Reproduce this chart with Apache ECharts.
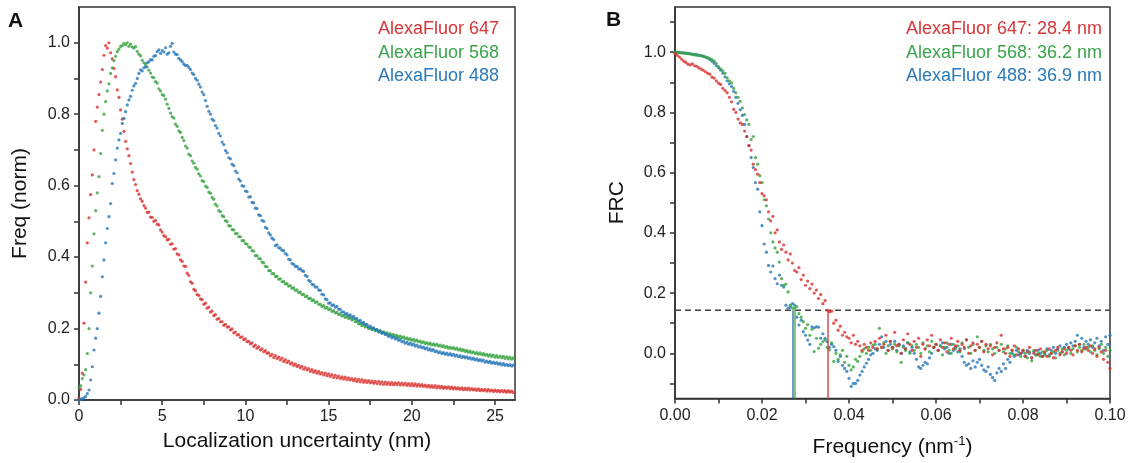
<!DOCTYPE html>
<html><head><meta charset="utf-8">
<script src="https://cdn.jsdelivr.net/npm/echarts/dist/echarts.min.js"></script>
<style>html,body{margin:0;padding:0;background:#fff}#c{width:1129px;height:463px}</style>
</head><body><div id="c"></div>
<script>
// ---------- Panel A: localization uncertainty histograms (bin start/step in nm) ----------
const uncBinStart = 0, uncBinStep = 0.1;
const af647Unc = [
0.005,0.03,0.075,0.215,0.33,0.44,0.51,0.575,0.63,0.70,
0.78,0.82,0.855,0.89,0.925,0.965,0.992,0.985,1.0,0.972,
0.955,0.928,0.905,0.868,0.847,0.812,0.786,0.752,0.724,0.703,
0.684,0.662,0.638,0.617,0.603,0.586,0.576,0.563,0.556,0.544,
0.537,0.525,0.526,0.512,0.511,0.5,0.503,0.492,0.49,0.476,
0.47,0.46,0.457,0.448,0.45,0.436,0.437,0.422,0.424,0.409,
0.406,0.392,0.388,0.375,0.374,0.355,0.349,0.331,0.327,0.31,
0.306,0.295,0.293,0.283,0.281,0.268,0.271,0.257,0.26,0.246,
0.249,0.236,0.239,0.226,0.228,0.219,0.219,0.209,0.212,0.204,
0.205,0.196,0.199,0.188,0.19,0.182,0.183,0.175,0.177,0.169,
0.171,0.163,0.164,0.157,0.16,0.15,0.154,0.145,0.149,0.14,
0.143,0.135,0.138,0.131,0.132,0.124,0.128,0.119,0.124,0.116,
0.12,0.112,0.117,0.108,0.113,0.105,0.109,0.101,0.104,0.097,
0.101,0.094,0.097,0.09,0.094,0.086,0.091,0.084,0.088,0.08,
0.085,0.078,0.082,0.075,0.08,0.073,0.077,0.07,0.075,0.068,
0.073,0.066,0.071,0.063,0.069,0.062,0.067,0.06,0.065,0.059,
0.064,0.057,0.062,0.056,0.06,0.054,0.059,0.052,0.058,0.051,
0.057,0.05,0.055,0.049,0.054,0.048,0.053,0.047,0.052,0.046,
0.052,0.045,0.051,0.044,0.05,0.044,0.049,0.043,0.049,0.043,
0.048,0.043,0.048,0.042,0.047,0.042,0.047,0.041,0.046,0.04,
0.046,0.04,0.045,0.039,0.044,0.039,0.043,0.038,0.042,0.037,
0.041,0.036,0.04,0.035,0.04,0.034,0.039,0.034,0.038,0.033,
0.037,0.033,0.037,0.032,0.036,0.031,0.035,0.031,0.034,0.03,
0.034,0.029,0.033,0.029,0.033,0.028,0.032,0.028,0.031,0.027,
0.031,0.026,0.03,0.026,0.03,0.025,0.029,0.025,0.028,0.024,
0.028,0.024,0.027,0.023,0.027,0.023,0.026,0.022,0.026,0.022,
0.025,0.021];
const af568Unc = [
0.035,0.04,0.06,0.07,0.085,0.13,0.2,0.3,0.375,0.465,
0.53,0.58,0.625,0.69,0.755,0.8,0.835,0.865,0.885,0.914,
0.93,0.95,0.962,0.975,0.982,0.99,0.992,0.998,0.994,1.0,
0.99,0.996,0.988,0.985,0.989,0.976,0.968,0.963,0.951,0.944,
0.94,0.932,0.923,0.915,0.904,0.902,0.891,0.887,0.871,0.865,
0.855,0.852,0.842,0.828,0.816,0.803,0.793,0.789,0.772,0.766,
0.753,0.749,0.735,0.726,0.711,0.705,0.688,0.684,0.669,0.663,
0.651,0.646,0.633,0.627,0.614,0.611,0.599,0.595,0.582,0.579,
0.567,0.562,0.548,0.543,0.53,0.527,0.516,0.513,0.502,0.499,
0.488,0.487,0.477,0.476,0.466,0.466,0.457,0.457,0.446,0.446,
0.438,0.436,0.428,0.427,0.418,0.417,0.404,0.404,0.396,0.395,
0.386,0.384,0.374,0.373,0.362,0.362,0.354,0.354,0.346,0.346,
0.338,0.339,0.331,0.332,0.325,0.326,0.319,0.32,0.313,0.314,
0.307,0.308,0.301,0.302,0.295,0.296,0.289,0.291,0.284,0.285,
0.278,0.28,0.273,0.275,0.268,0.268,0.262,0.264,0.257,0.259,
0.253,0.255,0.248,0.25,0.244,0.245,0.239,0.241,0.235,0.237,
0.231,0.234,0.228,0.23,0.224,0.226,0.219,0.22,0.213,0.214,
0.208,0.21,0.204,0.206,0.2,0.202,0.197,0.199,0.194,0.197,
0.191,0.194,0.188,0.191,0.186,0.189,0.183,0.186,0.181,0.184,
0.179,0.181,0.176,0.179,0.174,0.177,0.172,0.174,0.169,0.172,
0.167,0.17,0.165,0.168,0.163,0.165,0.16,0.163,0.158,0.161,
0.156,0.159,0.154,0.157,0.153,0.156,0.151,0.154,0.149,0.152,
0.147,0.15,0.145,0.148,0.144,0.147,0.142,0.145,0.14,0.143,
0.138,0.141,0.136,0.139,0.134,0.137,0.132,0.135,0.13,0.133,
0.128,0.132,0.127,0.13,0.125,0.128,0.123,0.127,0.122,0.126,
0.12,0.124,0.119,0.123,0.118,0.122,0.116,0.121,0.115,0.12,
0.114,0.118];
const af488Unc = [
0.0,0.002,0.004,0.006,0.01,0.018,0.028,0.056,0.093,0.14,
0.173,0.2,0.243,0.29,0.345,0.392,0.44,0.48,0.513,0.55,
0.606,0.634,0.672,0.705,0.728,0.746,0.774,0.788,0.807,0.826,
0.84,0.85,0.867,0.879,0.886,0.9,0.914,0.924,0.921,0.93,
0.933,0.944,0.947,0.953,0.952,0.962,0.964,0.975,0.98,0.97,
0.978,0.974,0.986,0.968,0.972,0.99,0.998,0.974,0.968,0.967,
0.956,0.952,0.947,0.94,0.936,0.937,0.931,0.925,0.915,0.911,
0.9,0.895,0.884,0.876,0.862,0.855,0.838,0.822,0.808,0.8,
0.786,0.782,0.768,0.761,0.746,0.739,0.722,0.715,0.698,0.692,
0.678,0.675,0.66,0.656,0.641,0.636,0.618,0.613,0.6,0.598,
0.585,0.583,0.568,0.569,0.553,0.552,0.537,0.536,0.518,0.516,
0.503,0.5,0.483,0.48,0.468,0.462,0.453,0.449,0.432,0.434,
0.426,0.425,0.419,0.418,0.41,0.406,0.394,0.392,0.382,0.38,
0.374,0.374,0.367,0.367,0.362,0.36,0.349,0.346,0.335,0.332,
0.324,0.322,0.316,0.316,0.308,0.307,0.296,0.294,0.283,0.281,
0.271,0.272,0.265,0.266,0.26,0.262,0.254,0.254,0.246,0.247,
0.241,0.242,0.236,0.238,0.232,0.234,0.228,0.228,0.221,0.223,
0.216,0.217,0.211,0.212,0.205,0.207,0.201,0.202,0.196,0.197,
0.191,0.193,0.187,0.189,0.183,0.184,0.178,0.18,0.174,0.177,
0.171,0.173,0.167,0.169,0.163,0.165,0.159,0.162,0.156,0.159,
0.154,0.157,0.151,0.154,0.148,0.151,0.146,0.148,0.143,0.146,
0.14,0.143,0.138,0.141,0.135,0.137,0.132,0.135,0.13,0.133,
0.128,0.131,0.126,0.13,0.125,0.128,0.123,0.126,0.121,0.124,
0.119,0.122,0.118,0.121,0.116,0.119,0.114,0.117,0.112,0.115,
0.11,0.113,0.109,0.112,0.106,0.109,0.105,0.108,0.103,0.106,
0.102,0.105,0.1,0.103,0.098,0.102,0.097,0.1,0.096,0.099,
0.095,0.098];

// ---------- Panel B: FRC curves (frequency start/step in nm^-1) ----------
const freqStart = 0, freqStep = 0.0005;
const af647Frc = [
0.996,0.99,0.984,0.977,0.97,0.966,0.96,0.958,0.961,0.955,
0.953,0.948,0.944,0.94,0.935,0.93,0.927,0.917,0.914,0.905,
0.897,0.893,0.88,0.872,0.865,0.85,0.835,0.81,0.8,0.778,
0.765,0.76,0.738,0.72,0.69,0.675,0.628,0.61,0.595,0.567,
0.53,0.523,0.51,0.47,0.44,0.455,0.40,0.41,0.37,0.345,
0.36,0.336,0.31,0.33,0.30,0.275,0.27,0.285,0.245,0.26,
0.226,0.24,0.215,0.23,0.2,0.21,0.182,0.195,0.165,0.175,
0.143,0.138,0.14,0.1,0.11,0.077,0.09,0.06,0.07,0.055,
0.05,0.035,0.06,0.03,0.04,0.025,0.01,0.03,0.02,0.01,
0.035,0.02,0.04,0.015,0.05,0.02,0.03,0.06,0.01,0.04,
0.02,0.07,0.025,0.03,0.0,0.045,0.015,0.065,0.03,0.01,
0.04,0.02,0.05,-0.01,0.03,0.015,0.045,0.025,0.06,0.02,
0.03,0.01,0.045,0.02,0.035,0.005,0.03,0.05,0.015,0.025,
0.04,0.01,0.03,0.02,0.045,0.0,0.025,0.035,0.01,0.03,
0.02,0.04,0.005,0.03,0.015,0.025,-0.005,0.02,0.035,0.01,
0.06,0.015,0.0,0.02,-0.01,0.01,0.025,-0.005,0.015,0.0,
0.01,-0.01,0.005,0.02,-0.015,0.0,0.01,-0.005,0.015,-0.01,
0.005,-0.01,0.015,0.0,-0.015,0.01,0.02,-0.005,0.005,0.015,
0.0,0.02,0.01,-0.005,0.025,0.01,0.03,0.005,0.015,0.02,
0.01,0.025,0.0,0.015,-0.01,0.02,0.005,-0.02,0.01,-0.03,-0.05];
const af568Frc = [
1.0,0.999,0.999,0.998,0.997,0.996,0.995,0.994,0.993,0.991,
0.99,0.989,0.988,0.986,0.984,0.982,0.979,0.975,0.97,0.962,
0.952,0.945,0.938,0.93,0.915,0.905,0.898,0.88,0.865,0.85,
0.837,0.815,0.793,0.775,0.76,0.71,0.72,0.65,0.628,0.59,
0.567,0.51,0.49,0.446,0.40,0.37,0.35,0.336,0.303,0.248,
0.226,0.23,0.204,0.16,0.15,0.149,0.155,0.132,0.12,0.105,
0.083,0.095,0.06,0.08,0.006,0.05,0.017,0.03,0.039,0.045,
0.02,0.011,0.035,-0.027,0.0,-0.02,-0.005,0.01,-0.03,-0.01,
-0.04,-0.055,-0.045,-0.02,-0.027,-0.01,0.005,0.015,0.0,0.02,
0.01,0.027,0.03,0.015,0.083,0.02,0.035,0.0,0.025,0.04,
0.015,0.03,0.005,0.025,-0.03,0.02,0.01,0.035,0.0,0.025,
0.01,0.03,0.02,0.0,0.035,0.015,0.025,0.005,0.04,0.02,
0.03,0.01,0.025,-0.005,0.02,0.035,0.01,0.0,0.03,0.015,
0.025,0.005,0.035,0.015,0.045,0.02,0.0,0.03,0.01,0.055,
0.02,0.04,0.01,0.025,0.005,0.03,0.015,0.0,0.02,0.01,
0.03,0.005,0.015,0.025,0.0,0.01,-0.005,0.02,0.005,-0.01,
0.01,0.0,-0.015,0.005,-0.025,0.01,-0.005,0.0,-0.01,0.005,
-0.005,0.01,-0.01,0.0,0.005,-0.015,0.01,0.0,0.015,-0.005,
0.01,0.02,0.0,0.015,0.025,0.005,0.02,0.01,0.03,0.015,
0.02,0.005,0.025,0.01,-0.005,0.015,0.03,0.0,0.02,-0.01,0.01];
const af488Frc = [
1.0,0.999,0.999,0.998,0.998,0.997,0.996,0.995,0.994,0.993,
0.992,0.99,0.989,0.987,0.984,0.98,0.976,0.97,0.963,0.955,
0.948,0.94,0.93,0.918,0.905,0.895,0.886,0.87,0.85,0.83,
0.809,0.79,0.76,0.72,0.69,0.65,0.617,0.567,0.545,0.47,
0.424,0.363,0.336,0.292,0.27,0.29,0.248,0.231,0.26,0.226,
0.22,0.16,0.15,0.154,0.165,0.16,0.12,0.094,0.11,0.072,
0.06,0.044,0.03,0.088,0.085,0.088,0.087,0.05,0.065,0.05,
0.039,0.02,0.03,0.022,0.01,-0.027,-0.01,-0.04,-0.05,-0.06,
-0.083,-0.11,-0.1,-0.1,-0.09,-0.072,-0.06,-0.045,-0.033,-0.02,
-0.005,0.0,0.015,0.01,0.03,0.055,0.02,0.04,0.01,0.03,
0.02,0.04,0.01,0.03,0.0,0.025,0.015,0.035,0.005,0.02,
0.0,-0.02,-0.045,-0.05,-0.04,-0.03,-0.035,-0.015,0.0,0.02,
0.03,0.01,0.025,0.035,0.015,0.02,0.0,0.03,0.01,0.02,
0.005,0.015,-0.01,-0.03,-0.04,-0.035,-0.05,-0.025,-0.045,-0.03,
-0.02,-0.04,-0.055,-0.06,-0.045,-0.07,-0.08,-0.09,-0.065,-0.05,
-0.06,-0.035,-0.05,-0.02,-0.03,0.0,-0.01,0.01,-0.005,0.0,
0.005,-0.01,0.01,0.0,-0.015,0.005,-0.005,0.01,0.0,-0.01,
0.0,0.015,-0.005,0.01,0.02,0.0,0.015,0.025,0.005,0.02,
0.03,0.015,0.035,0.025,0.04,0.06,0.03,0.05,0.02,0.04,
0.03,0.045,0.02,0.035,0.05,0.025,0.04,0.01,0.055,0.03,0.06];

const dyeNames = ['AlexaFluor 647', 'AlexaFluor 568', 'AlexaFluor 488'];
const resolutionsNm = [28.4, 36.2, 36.9];
const frcThreshold = 1 / 7;

const uncXLabels = [0, 5, 10, 15, 20, 25];
const uncXTicks = [0, 2.5, 5, 7.5, 10, 12.5, 15, 17.5, 20, 22.5, 25];
const freqYLabels = [0, 0.2, 0.4, 0.6, 0.8, 1.0];
const freqYTicksA = [0, 0.1, 0.2, 0.3, 0.4, 0.5, 0.6, 0.7, 0.8, 0.9, 1.0];
const frcXLabels = [0, 0.02, 0.04, 0.06, 0.08, 0.1];
const frcXTicks = [0, 0.01, 0.02, 0.03, 0.04, 0.05, 0.06, 0.07, 0.08, 0.09, 0.1];
const frcYLabels = [0, 0.2, 0.4, 0.6, 0.8, 1.0];
const frcYTicks = [-0.1, 0, 0.1, 0.2, 0.3, 0.4, 0.5, 0.6, 0.7, 0.8, 0.9, 1.0, 1.1];

// ---------- styling ----------
const FONT = '"Liberation Sans", Arial, Helvetica, sans-serif';
const dotColors = ['#d8302d', '#34a23f', '#2677b8'];
const textColors = ['#d83538', '#3aa54a', '#2a7ab9'];
const lineColors = ['rgba(214,60,60,0.75)', 'rgba(70,170,80,0.75)', 'rgba(50,110,170,0.75)'];
const AX = '#333';

function pairs(arr, start, step) {
  return arr.map((v, i) => [+(start + i * step).toFixed(6), v]);
}
function axisCommon(labels, ticks, fmt) {
  return {
    axisLine: { show: true, onZero: false, lineStyle: { color: AX, width: 1.5 } },
    axisTick: { show: true, inside: false, length: 5, customValues: ticks, lineStyle: { color: AX, width: 1.5 } },
    minorTick: { show: false },
    axisLabel: { customValues: labels, formatter: fmt, fontSize: 16, color: '#222', fontFamily: FONT, margin: 9 },
    splitLine: { show: false }
  };
}

const uncData = [af647Unc, af568Unc, af488Unc];
const frcData = [af647Frc, af568Frc, af488Frc];

const series = [];
uncData.forEach((arr, k) => {
  series.push({
    type: 'scatter', name: dyeNames[k], xAxisIndex: 0, yAxisIndex: 0,
    data: pairs(arr, uncBinStart, uncBinStep), symbolSize: 3.2,
    itemStyle: { color: dotColors[k] }, silent: true, z: 2
  });
});
[2, 1, 0].forEach(k => {
  const xr = 1 / resolutionsNm[k];
  series.push({
    type: 'scatter', name: dyeNames[k] + ' FRC', xAxisIndex: 1, yAxisIndex: 1,
    data: pairs(frcData[k], freqStart, freqStep), symbolSize: 3.2,
    itemStyle: { color: dotColors[k] }, silent: true, z: 2,
    markLine: {
      silent: true, symbol: ['none', 'none'], animation: false,
      label: { show: false },
      lineStyle: { color: lineColors[k], width: 1.8, type: 'solid' },
      data: [[{ coord: [xr, -0.15] }, { coord: [xr, frcThreshold] }]]
    }
  });
});
series.push({
  type: 'line', xAxisIndex: 1, yAxisIndex: 1, data: [[0, frcThreshold], [0.1, frcThreshold]],
  showSymbol: false, silent: true, z: 1,
  lineStyle: { color: '#444', width: 1.5, type: [6, 4] }
});

const graphics = [];
graphics.push({ type: 'text', x: 8, y: 21, style: { text: 'A', fill: '#111', font: 'bold 21px ' + FONT, align: 'left', verticalAlign: 'middle' } });
graphics.push({ type: 'text', x: 606, y: 20, style: { text: 'B', fill: '#111', font: 'bold 21px ' + FONT, align: 'left', verticalAlign: 'middle' } });
const legendY = [29, 53, 76];
dyeNames.forEach((n, k) => {
  graphics.push({ type: 'text', x: 499, y: legendY[k], style: { text: n, fill: textColors[k], font: '18px ' + FONT, align: 'right', verticalAlign: 'middle' } });
  graphics.push({ type: 'text', x: 1102, y: legendY[k], style: { text: n + ': ' + resolutionsNm[k].toFixed(1) + ' nm', fill: textColors[k], font: '18px ' + FONT, align: 'right', verticalAlign: 'middle' } });
});

const option = {
  animation: false,
  backgroundColor: '#fff',
  grid: [
    { left: 79, top: 7, width: 436, height: 393, show: true, borderColor: AX, borderWidth: 1.5, backgroundColor: 'transparent' },
    { left: 675, top: 7, width: 435, height: 393, show: true, borderColor: AX, borderWidth: 1.5, backgroundColor: 'transparent' }
  ],
  xAxis: [
    Object.assign({ type: 'value', gridIndex: 0, min: 0, max: 26.2,
      name: 'Localization uncertainty (nm)', nameLocation: 'middle', nameGap: 31,
      nameTextStyle: { fontSize: 21, color: '#111', fontFamily: FONT } },
      axisCommon(uncXLabels, uncXTicks, v => String(Math.round(v)))),
    Object.assign({ type: 'value', gridIndex: 1, min: 0, max: 0.1,
      name: 'Frequency (nm{sup|-1})', nameLocation: 'middle', nameGap: 36,
      nameTextStyle: { fontSize: 21, color: '#111', fontFamily: FONT,
        rich: { sup: { fontSize: 13, color: '#111', fontFamily: FONT, verticalAlign: 'top', lineHeight: 26 } } } },
      axisCommon(frcXLabels, frcXTicks, v => v.toFixed(2)))
  ],
  yAxis: [
    Object.assign({ type: 'value', gridIndex: 0, min: 0, max: 1.1,
      name: 'Freq (norm)', nameLocation: 'middle', nameGap: 48,
      nameTextStyle: { fontSize: 21, color: '#111', fontFamily: FONT } },
      axisCommon(freqYLabels, freqYTicksA, v => v.toFixed(1))),
    Object.assign({ type: 'value', gridIndex: 1, min: -0.15, max: 1.15,
      name: 'FRC', nameLocation: 'middle', nameGap: 47,
      nameTextStyle: { fontSize: 21, color: '#111', fontFamily: FONT } },
      axisCommon(frcYLabels, frcYTicks, v => v.toFixed(1)))
  ],
  graphic: graphics,
  series: series
};

const chart = echarts.init(document.getElementById('c'), null, { renderer: 'canvas' });
chart.setOption(option);
</script>
</body></html>
